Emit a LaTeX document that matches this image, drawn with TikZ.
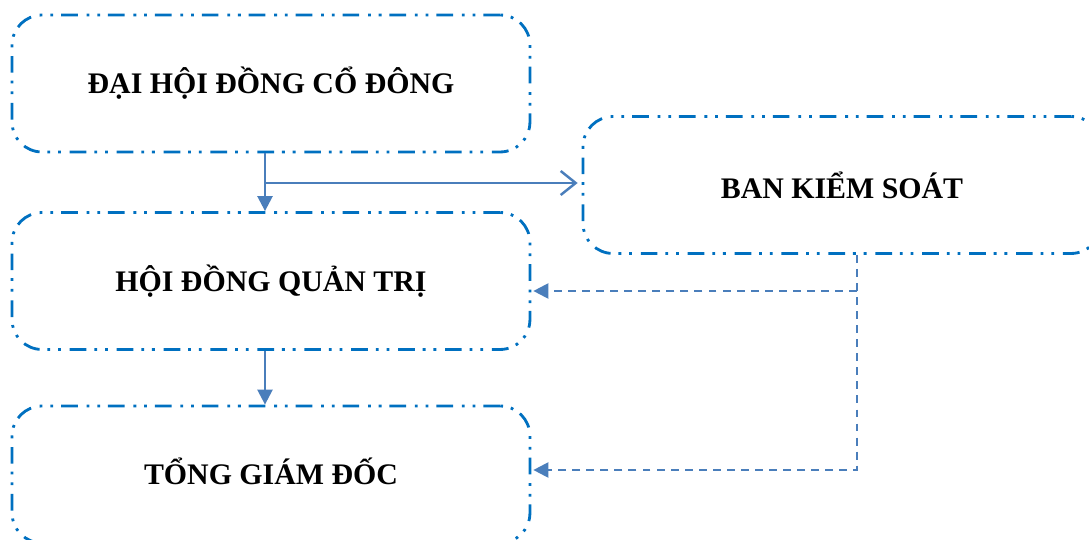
\documentclass[tikz,border=0pt]{standalone}
\usepackage{fontspec}
\setmainfont{Liberation Serif}
\usetikzlibrary{arrows.meta,calc}
\definecolor{boxblue}{HTML}{0070C0}
\definecolor{lineblue}{HTML}{4A7EBB}
\tikzset{
  unitbox/.style={draw=boxblue, line width=1.6pt, rounded corners=0.6cm,
    dash pattern=on 9.5pt off 4.5pt on 1.6pt off 4.5pt on 1.6pt off 5pt,
    minimum width=10.36cm, minimum height=2.74cm,
    font=\fontsize{17}{20}\selectfont\bfseries, align=center},
  mainarr/.style={draw=lineblue, line width=1.4pt, -{Triangle[length=0.3cm,width=0.3cm]}},
  branch/.style={draw=lineblue, line width=1.4pt, -{Straight Barb[length=0.3cm,width=0.48cm]}},
  ctrl/.style={draw=lineblue, line width=1.3pt, dash pattern=on 4.5pt off 3.5pt,
    -{Triangle[length=0.3cm,width=0.3cm]}}
}
\begin{document}
\begin{tikzpicture}[x=0.02cm, y=-0.02cm]
  \clip (0,0) rectangle (1089,540);
  \node[unitbox] (dhcd) at (271,83.5) {ĐẠI HỘI ĐỒNG CỔ ĐÔNG};
  \node[unitbox] (bks) at (842,185) {BAN KIỂM SOÁT};
  \node[unitbox] (hdqt) at (271,281) {HỘI ĐỒNG QUẢN TRỊ};
  \node[unitbox, text depth=0.14cm] (tgd) at (271,474.5) {TỔNG GIÁM ĐỐC};
  \coordinate (c1) at (265,0);
  \coordinate (c2) at (857,0);
  \coordinate (j1) at (265,183);
  \coordinate (j2) at (857,291);
  \coordinate (j3) at (857,470);
  \draw[mainarr] (dhcd.south -| c1) -- (hdqt.north -| c1);
  \draw[branch] (j1) -- ($(j1 -| bks.west)+(-4,0)$);
  \draw[mainarr] (hdqt.south -| c1) -- (tgd.north -| c1);
  \draw[ctrl] (bks.south -| c2) -- (j3) -- ($(j3 -| tgd.east)+(2,0)$);
  \draw[ctrl] (j2) -- ($(j2 -| hdqt.east)+(2,0)$);
\end{tikzpicture}
\end{document}
